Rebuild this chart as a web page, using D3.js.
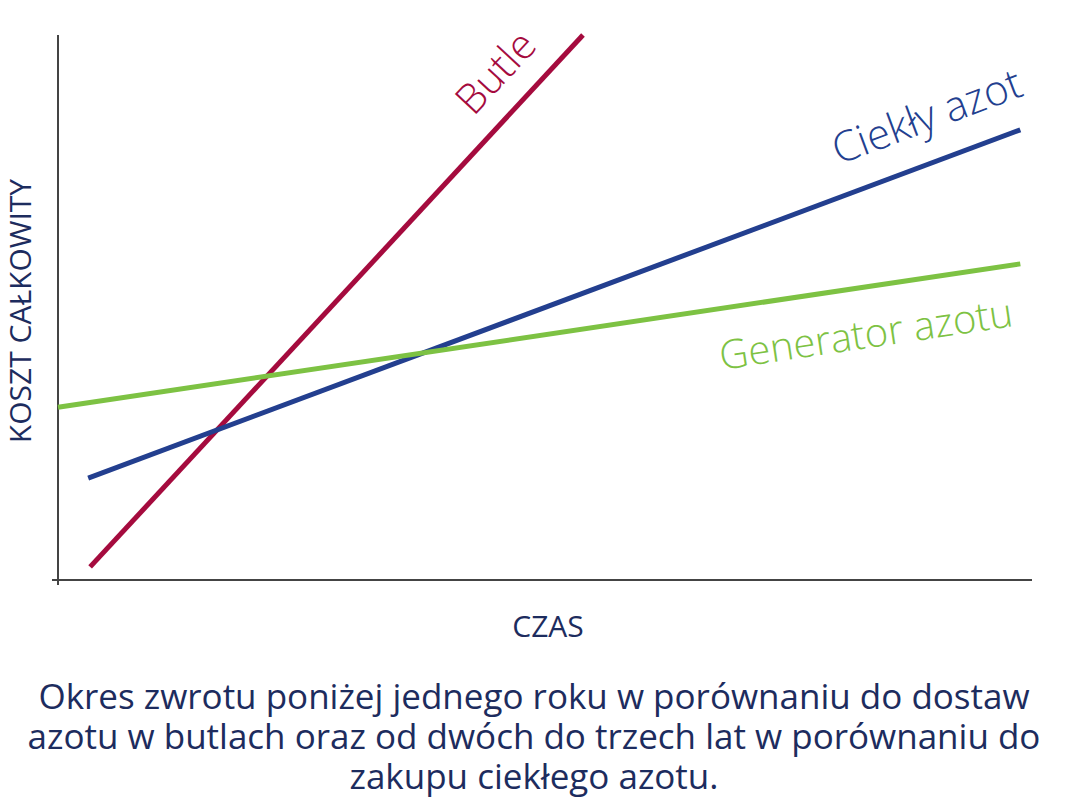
<!DOCTYPE html>
<html><head><meta charset="utf-8">
<script src="https://cdn.jsdelivr.net/npm/d3@7"></script>
<style>body{margin:0;background:#fff}</style>
</head><body>
<script>
const W = 1069, H = 807;

// series: [time, cost] endpoints (arbitrary units 0-100)
const butle = [[3.3, 2.4], [53.9, 100]];
const ciekly = [[3.1, 18.7], [98.8, 82.6]];
const generator = [[0, 31.7], [98.8, 58.0]];
const seriesNames = ["Butle", "Ciekły azot", "Generator azotu"];
const caption = [
  "Okres zwrotu poniżej jednego roku w porównaniu do dostaw",
  "azotu w butlach oraz od dwóch do trzech lat w porównaniu do",
  "zakupu ciekłego azotu."
];

const navy = "#1d2c5e";
const font = "'Open Sans', sans-serif";

const svg = d3.select("body").append("svg")
  .attr("width", W).attr("height", H)
  .attr("viewBox", "0 0 " + W + " " + H);

const x = d3.scaleLinear().domain([0, 100]).range([58, 1032]);
const y = d3.scaleLinear().domain([0, 100]).range([580, 35]);

// axes
svg.append("line").attr("x1", x(0)).attr("x2", x(0)).attr("y1", y(100)).attr("y2", y(0) + 5)
  .attr("stroke", "#444").attr("stroke-width", 2);
svg.append("line").attr("x1", x(0) - 6).attr("x2", x(100)).attr("y1", y(0)).attr("y2", y(0))
  .attr("stroke", "#444").attr("stroke-width", 2);

const line = d3.line().x(d => x(d[0])).y(d => y(d[1]));
const series = [
  {data: butle, color: "#a50b3e"},
  {data: ciekly, color: "#233f8f"},
  {data: generator, color: "#7dc243"}
];
svg.selectAll("path.s").data(series).enter().append("path")
  .attr("class", "s")
  .attr("d", d => line(d.data))
  .attr("fill", "none")
  .attr("stroke", d => d.color)
  .attr("stroke-width", 5);

// series labels
const labels = [
  {x: 506, y: 82, rot: -47, size: 41},
  {x: 932, y: 130, rot: -20.5, size: 42},
  {x: 868, y: 348, rot: -8.5, size: 40}
];
labels.forEach((l, i) => {
  svg.append("text")
    .attr("transform", `translate(${l.x},${l.y}) rotate(${l.rot})`)
    .attr("text-anchor", "middle")
    .attr("font-family", font).attr("font-weight", 300)
    .attr("font-size", l.size)
    .attr("fill", series[i].color)
    .text(seriesNames[i]);
});

// axis titles
svg.append("text")
  .attr("transform", "translate(31,311) rotate(-90)")
  .attr("text-anchor", "middle")
  .attr("font-family", font).attr("font-size", 30).attr("fill", navy)
  .text("KOSZT CAŁKOWITY");
svg.append("text")
  .attr("x", 548).attr("y", 637)
  .attr("text-anchor", "middle")
  .attr("font-family", font).attr("font-size", 30).attr("fill", navy)
  .text("CZAS");

// caption
svg.selectAll("text.cap").data(caption).enter().append("text")
  .attr("class", "cap")
  .attr("x", 534).attr("y", (d, i) => 709 + i * 40)
  .attr("text-anchor", "middle")
  .attr("font-family", font).attr("font-size", 35).attr("fill", navy)
  .text(d => d);
</script>
</body></html>
